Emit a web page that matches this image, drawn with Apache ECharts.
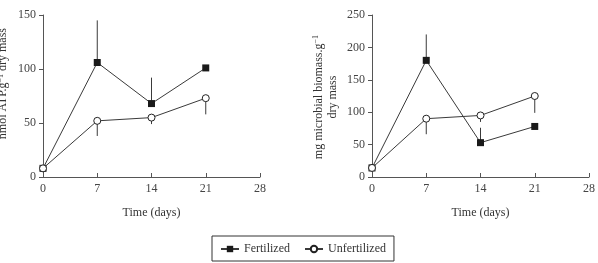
<!DOCTYPE html>
<html>
<head>
<meta charset="utf-8">
<script src="https://cdn.jsdelivr.net/npm/echarts@6/dist/echarts.min.js"></script>
<style>
  html, body { margin: 0; padding: 0; background: #fff; }
  #chart { width: 598px; height: 263px; }
</style>
</head>
<body>
<div id="chart"></div>
<script>
// days of sampling
var days = [0, 7, 14, 21]
var xTicks = [0, 7, 14, 21, 28]

// left panel: nmol ATP per g dry mass
var atpFert = [8, 106, 68, 101]
var atpFertErr = [8, 145, 92, 101]   // end of the error bar
var atpUnfert = [8, 52, 55, 73]
var atpUnfertErr = [8, 38, 49, 58]

// right panel: mg microbial biomass per g dry mass
var bioFert = [14, 180, 53, 78]
var bioFertErr = [14, 220, 76, 78]
var bioUnfert = [14, 90, 95, 125]
var bioUnfertErr = [14, 66, 85, 99]

var serif = 'Liberation Serif'
var axisColor = '#555'
var lineColor = '#3a3a3a'

function pairs(vals) {
  return days.map(function(d, i) { return [d, vals[i]] })
}

function errData(vals, ends) {
  return days.map(function(d, i) { return [d, vals[i], ends[i]] })
}

function errSeries(idx, vals, ends) {
  return {
    type: 'custom',
    xAxisIndex: idx,
    yAxisIndex: idx,
    z: 1,
    silent: true,
    data: errData(vals, ends),
    renderItem: function(params, api) {
      var a = api.coord([api.value(0), api.value(1)])
      var b = api.coord([api.value(0), api.value(2)])
      return {
        type: 'line',
        shape: { x1: a[0], y1: a[1], x2: b[0], y2: b[1] },
        style: { stroke: lineColor, lineWidth: 1 }
      }
    }
  }
}

function fertSeries(idx, vals) {
  return {
    name: 'Fertilized',
    type: 'line',
    xAxisIndex: idx,
    yAxisIndex: idx,
    z: 3,
    data: pairs(vals),
    symbol: 'rect',
    symbolSize: 7,
    lineStyle: { color: lineColor, width: 1 },
    itemStyle: { color: '#1a1a1a' },
    animation: false
  }
}

function unfertSeries(idx, vals) {
  return {
    name: 'Unfertilized',
    type: 'line',
    xAxisIndex: idx,
    yAxisIndex: idx,
    z: 4,
    data: pairs(vals),
    symbol: 'circle',
    symbolSize: 7,
    showAllSymbol: true,
    lineStyle: { color: lineColor, width: 1 },
    itemStyle: { color: '#fff', borderColor: '#222', borderWidth: 1 },
    animation: false
  }
}

function xAxis(idx) {
  return {
    type: 'value',
    gridIndex: idx,
    min: 0,
    max: 28,
    interval: 7,
    name: 'Time (days)',
    nameLocation: 'middle',
    nameGap: 30,
    nameTextStyle: { fontFamily: serif, fontSize: 12, color: '#333' },
    axisLine: { lineStyle: { color: axisColor } },
    axisTick: { inside: true, length: 4, lineStyle: { color: axisColor } },
    axisLabel: {
      fontFamily: serif, fontSize: 12, color: '#444', margin: 6,
      formatter: function(v) { return xTicks.indexOf(v) >= 0 ? v : '' }
    },
    splitLine: { show: false }
  }
}

function yAxis(idx, max) {
  return {
    type: 'value',
    gridIndex: idx,
    min: 0,
    max: max,
    interval: 50,
    axisLine: { show: true, lineStyle: { color: axisColor } },
    axisTick: { show: true, length: 4, lineStyle: { color: axisColor } },
    axisLabel: { fontFamily: serif, fontSize: 12, color: '#444', margin: 7 },
    splitLine: { show: false }
  }
}

var chart = echarts.init(document.getElementById('chart'), null, { renderer: 'canvas' })

chart.setOption({
  backgroundColor: '#fff',
  animation: false,
  textStyle: { fontFamily: serif },
  grid: [
    { left: 43, right: 338, top: 15, bottom: 86 },
    { left: 372, right: 8, top: 15, bottom: 86 }
  ],
  xAxis: [xAxis(0), xAxis(1)],
  yAxis: [yAxis(0, 150), yAxis(1, 250)],
  legend: {
    data: ['Fertilized', 'Unfertilized'],
    left: 212,
    top: 236,
    itemWidth: 18,
    itemHeight: 8,
    itemGap: 14,
    padding: [7, 8, 6, 8],
    borderColor: '#333',
    borderWidth: 1,
    borderRadius: 0,
    textStyle: { fontFamily: serif, fontSize: 12, color: '#333' }
  },
  graphic: [
    {
      type: 'text',
      left: -3,
      top: 28,
      rotation: Math.PI / 2,
      style: {
        text: '{a|nmol ATP.g}{s|−1}{a| dry mass}',
        rich: {
          a: { fontFamily: serif, fontSize: 12, fill: '#333' },
          s: { fontFamily: serif, fontSize: 8, fill: '#333', verticalAlign: 'top' }
        }
      }
    },
    {
      type: 'text',
      left: 312,
      top: 35,
      rotation: Math.PI / 2,
      style: {
        text: '{a|mg microbial biomass.g}{s|−1}\n{a|dry mass}',
        align: 'center',
        rich: {
          a: { fontFamily: serif, fontSize: 12, fill: '#333', lineHeight: 14, align: 'center' },
          s: { fontFamily: serif, fontSize: 8, fill: '#333', verticalAlign: 'top', lineHeight: 14 }
        }
      }
    }
  ],
  series: [
    errSeries(0, atpFert, atpFertErr),
    errSeries(0, atpUnfert, atpUnfertErr),
    fertSeries(0, atpFert),
    unfertSeries(0, atpUnfert),
    errSeries(1, bioFert, bioFertErr),
    errSeries(1, bioUnfert, bioUnfertErr),
    fertSeries(1, bioFert),
    unfertSeries(1, bioUnfert)
  ]
})
</script>
</body>
</html>
